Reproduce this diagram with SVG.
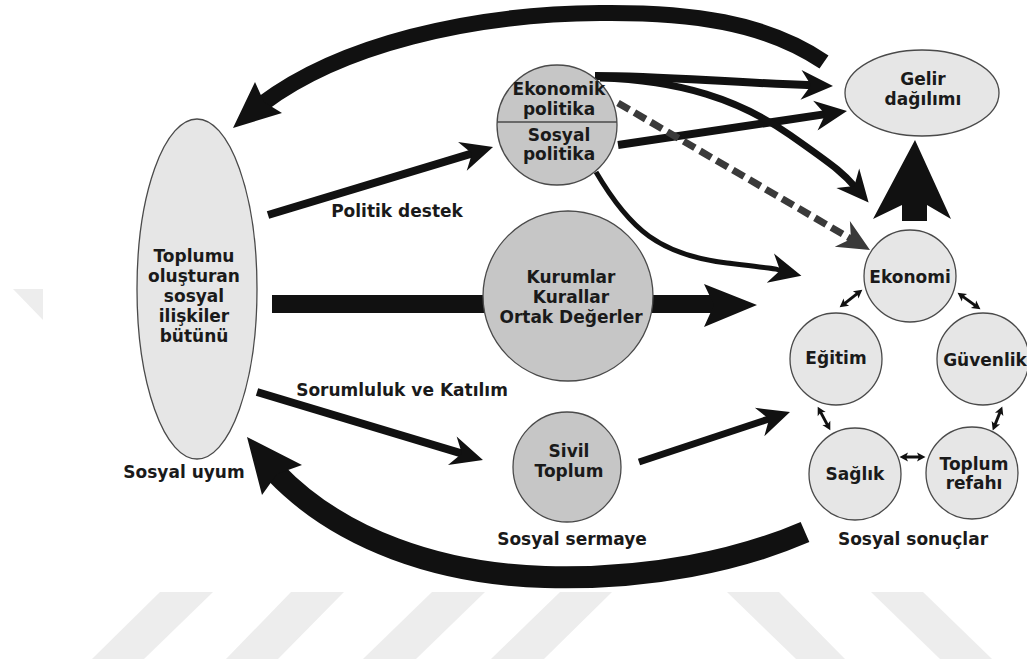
<svg xmlns="http://www.w3.org/2000/svg" width="1027" height="664" viewBox="0 0 1027 664">
  <style>
    .lbl { font-family: "DejaVu Sans", Verdana, sans-serif; font-weight: bold; font-size: 17px; fill: #1a1a1a; text-anchor: middle; }
    .light { fill: #e6e6e6; stroke: #4a4a4a; stroke-width: 1.3; }
    .dark { fill: #c6c6c6; stroke: #4a4a4a; stroke-width: 1.3; }
    .arr { fill: none; stroke: #111; stroke-linecap: butt; }
    .wm { fill: #ededed; }
  </style>
  <defs>
    <marker id="head" viewBox="-14 -17 36 34" markerWidth="36" markerHeight="34" refX="0" refY="0" markerUnits="userSpaceOnUse" orient="auto">
      <path d="M20,0 L-12,-15 L-2,0 L-12,15 Z" fill="#111"/>
    </marker>
    <marker id="headGray" viewBox="-14 -17 36 34" markerWidth="36" markerHeight="34" refX="0" refY="0" markerUnits="userSpaceOnUse" orient="auto">
      <path d="M20,0 L-12,-15 L-2,0 L-12,15 Z" fill="#3a3a3a"/>
    </marker>
    <marker id="tiny" viewBox="-5 -5 10 10" markerWidth="10" markerHeight="10" refX="0" refY="0" markerUnits="userSpaceOnUse" orient="auto-start-reverse">
      <path d="M4.5,0 L-4,-4.5 L-2,0 L-4,4.5 Z" fill="#111"/>
    </marker>
  </defs>

  <rect width="1027" height="664" fill="#fff"/>

  <!-- faint background stripes -->
  <g id="watermark">
    <polygon class="wm" points="160,592 213,592 144,659 92,659"/>
    <polygon class="wm" points="291,592 344,592 278,659 226,659"/>
    <polygon class="wm" points="432,592 485,592 416,659 363,659"/>
    <polygon class="wm" points="560,592 612,592 544,659 491,659"/>
    <polygon class="wm" points="727,592 779,592 845,659 796,659"/>
    <polygon class="wm" points="871,592 923,592 992,659 940,659"/>
    <polygon class="wm" points="13,289 43,289 43,320"/>
  </g>

  <g id="connectors">
    <!-- large feedback loop over the top -->
    <path class="arr" d="M824,62 C765,22 690,12 600,13 C470,14 340,45 262,104" stroke-width="16"/>
    <polygon points="233,128 255,82 264,102 282,113" fill="#111"/>
    <!-- large feedback loop along the bottom -->
    <path class="arr" d="M805,532 C740,560 650,580 545,577 C440,574 340,540 275,472" stroke-width="22"/>
    <polygon points="247,437 302,465 277,474 262,495" fill="#111"/>
    <!-- wide horizontal flow through the institutions -->
    <rect x="272" y="295" width="442" height="18" fill="#111"/>
    <polygon points="704,284 757,305 704,327 714,305" fill="#111"/>
    <!-- upward arrow to income distribution -->
    <polygon points="915,140 951,219 927,205 927,221 902,221 902,205 873,219" fill="#111"/>

    <!-- Politik destek -->
    <path class="arr" d="M268,215 L473.9,152.8" stroke-width="8" marker-end="url(#head)"/>
    <!-- Sorumluluk ve Katılım -->
    <path class="arr" d="M257,392 L463.8,454.2" stroke-width="8" marker-end="url(#head)"/>
    <!-- civil society to outcomes -->
    <path class="arr" d="M639,462 L771,418.3" stroke-width="7" marker-end="url(#head)"/>
    <!-- policy arrows -->
    <path class="arr" d="M595,76 C660,76 720,82 813,85.3" stroke-width="8" marker-end="url(#head)"/>
    <path class="arr" d="M618,145 L827.2,113.9" stroke-width="8" marker-end="url(#head)"/>
    <path class="arr" d="M600,78 C680,80 740,100 790,135 S845,175 855.6,187.4" stroke-width="7" marker-end="url(#head)"/>
    <path class="arr" d="M596,172 C630,230 660,255 727,263 S770,268 782,271" stroke-width="5" marker-end="url(#head)"/>
    <path d="M618,103 L852.7,239.9" fill="none" stroke="#3a3a3a" stroke-width="7" stroke-dasharray="13 6" marker-end="url(#headGray)"/>

    <!-- links between outcome areas -->
    <path class="arr" d="M843.2,304.6 L858.8,292.4" stroke-width="3" marker-start="url(#tiny)" marker-end="url(#tiny)"/>
    <path class="arr" d="M961.2,295.4 L976.8,306.6" stroke-width="3" marker-start="url(#tiny)" marker-end="url(#tiny)"/>
    <path class="arr" d="M819.8,410.6 L828.2,426.4" stroke-width="3" marker-start="url(#tiny)" marker-end="url(#tiny)"/>
    <path class="arr" d="M1000.6,410.7 L994.4,426.3" stroke-width="3" marker-start="url(#tiny)" marker-end="url(#tiny)"/>
    <path class="arr" d="M904,457 L921,457" stroke-width="3" marker-start="url(#tiny)" marker-end="url(#tiny)"/>
  </g>

  <g id="toplum">
    <ellipse class="light" cx="197" cy="289" rx="60" ry="170"/>
    <text class="lbl" x="194" y="262">Toplumu</text>
    <text class="lbl" x="194" y="282">oluşturan</text>
    <text class="lbl" x="194" y="302">sosyal</text>
    <text class="lbl" x="194" y="322">ilişkiler</text>
    <text class="lbl" x="194" y="342">bütünü</text>
    <text class="lbl" x="184" y="478">Sosyal uyum</text>
  </g>

  <g id="politika">
    <circle class="dark" cx="557" cy="125" r="60"/>
    <line x1="497" y1="122" x2="617" y2="122" stroke="#4a4a4a" stroke-width="1.5"/>
    <text class="lbl" x="559" y="95">Ekonomik</text>
    <text class="lbl" x="559" y="115">politika</text>
    <text class="lbl" x="559" y="141">Sosyal</text>
    <text class="lbl" x="559" y="160">politika</text>
  </g>

  <g id="kurumlar">
    <circle class="dark" cx="568" cy="296" r="85"/>
    <text class="lbl" x="571" y="283">Kurumlar</text>
    <text class="lbl" x="571" y="303">Kurallar</text>
    <text class="lbl" x="571" y="323">Ortak Değerler</text>
  </g>

  <g id="sivil-toplum">
    <ellipse class="dark" cx="567" cy="467" rx="54" ry="55"/>
    <text class="lbl" x="569" y="457">Sivil</text>
    <text class="lbl" x="569" y="477">Toplum</text>
    <text class="lbl" x="572" y="545">Sosyal sermaye</text>
  </g>

  <g id="gelir">
    <ellipse class="light" cx="922" cy="93" rx="77" ry="43"/>
    <text class="lbl" x="923" y="85">Gelir</text>
    <text class="lbl" x="923" y="105">dağılımı</text>
  </g>

  <g id="ekonomi">
    <circle class="light" cx="910" cy="276" r="46"/>
    <text class="lbl" x="910" y="283">Ekonomi</text>
  </g>
  <g id="egitim">
    <circle class="light" cx="836" cy="359" r="46"/>
    <text class="lbl" x="836" y="364">Eğitim</text>
  </g>
  <g id="guvenlik">
    <circle class="light" cx="983" cy="359" r="46"/>
    <text class="lbl" x="985" y="366">Güvenlik</text>
  </g>
  <g id="saglik">
    <circle class="light" cx="855" cy="474" r="46"/>
    <text class="lbl" x="855" y="480">Sağlık</text>
  </g>
  <g id="toplum-refahi">
    <circle class="light" cx="972" cy="473" r="46"/>
    <text class="lbl" x="974" y="470">Toplum</text>
    <text class="lbl" x="974" y="489">refahı</text>
  </g>

  <g id="labels">
    <text class="lbl" x="397" y="217">Politik destek</text>
    <text class="lbl" x="402" y="396">Sorumluluk ve Katılım</text>
    <text class="lbl" x="913" y="545">Sosyal sonuçlar</text>
  </g>
</svg>
